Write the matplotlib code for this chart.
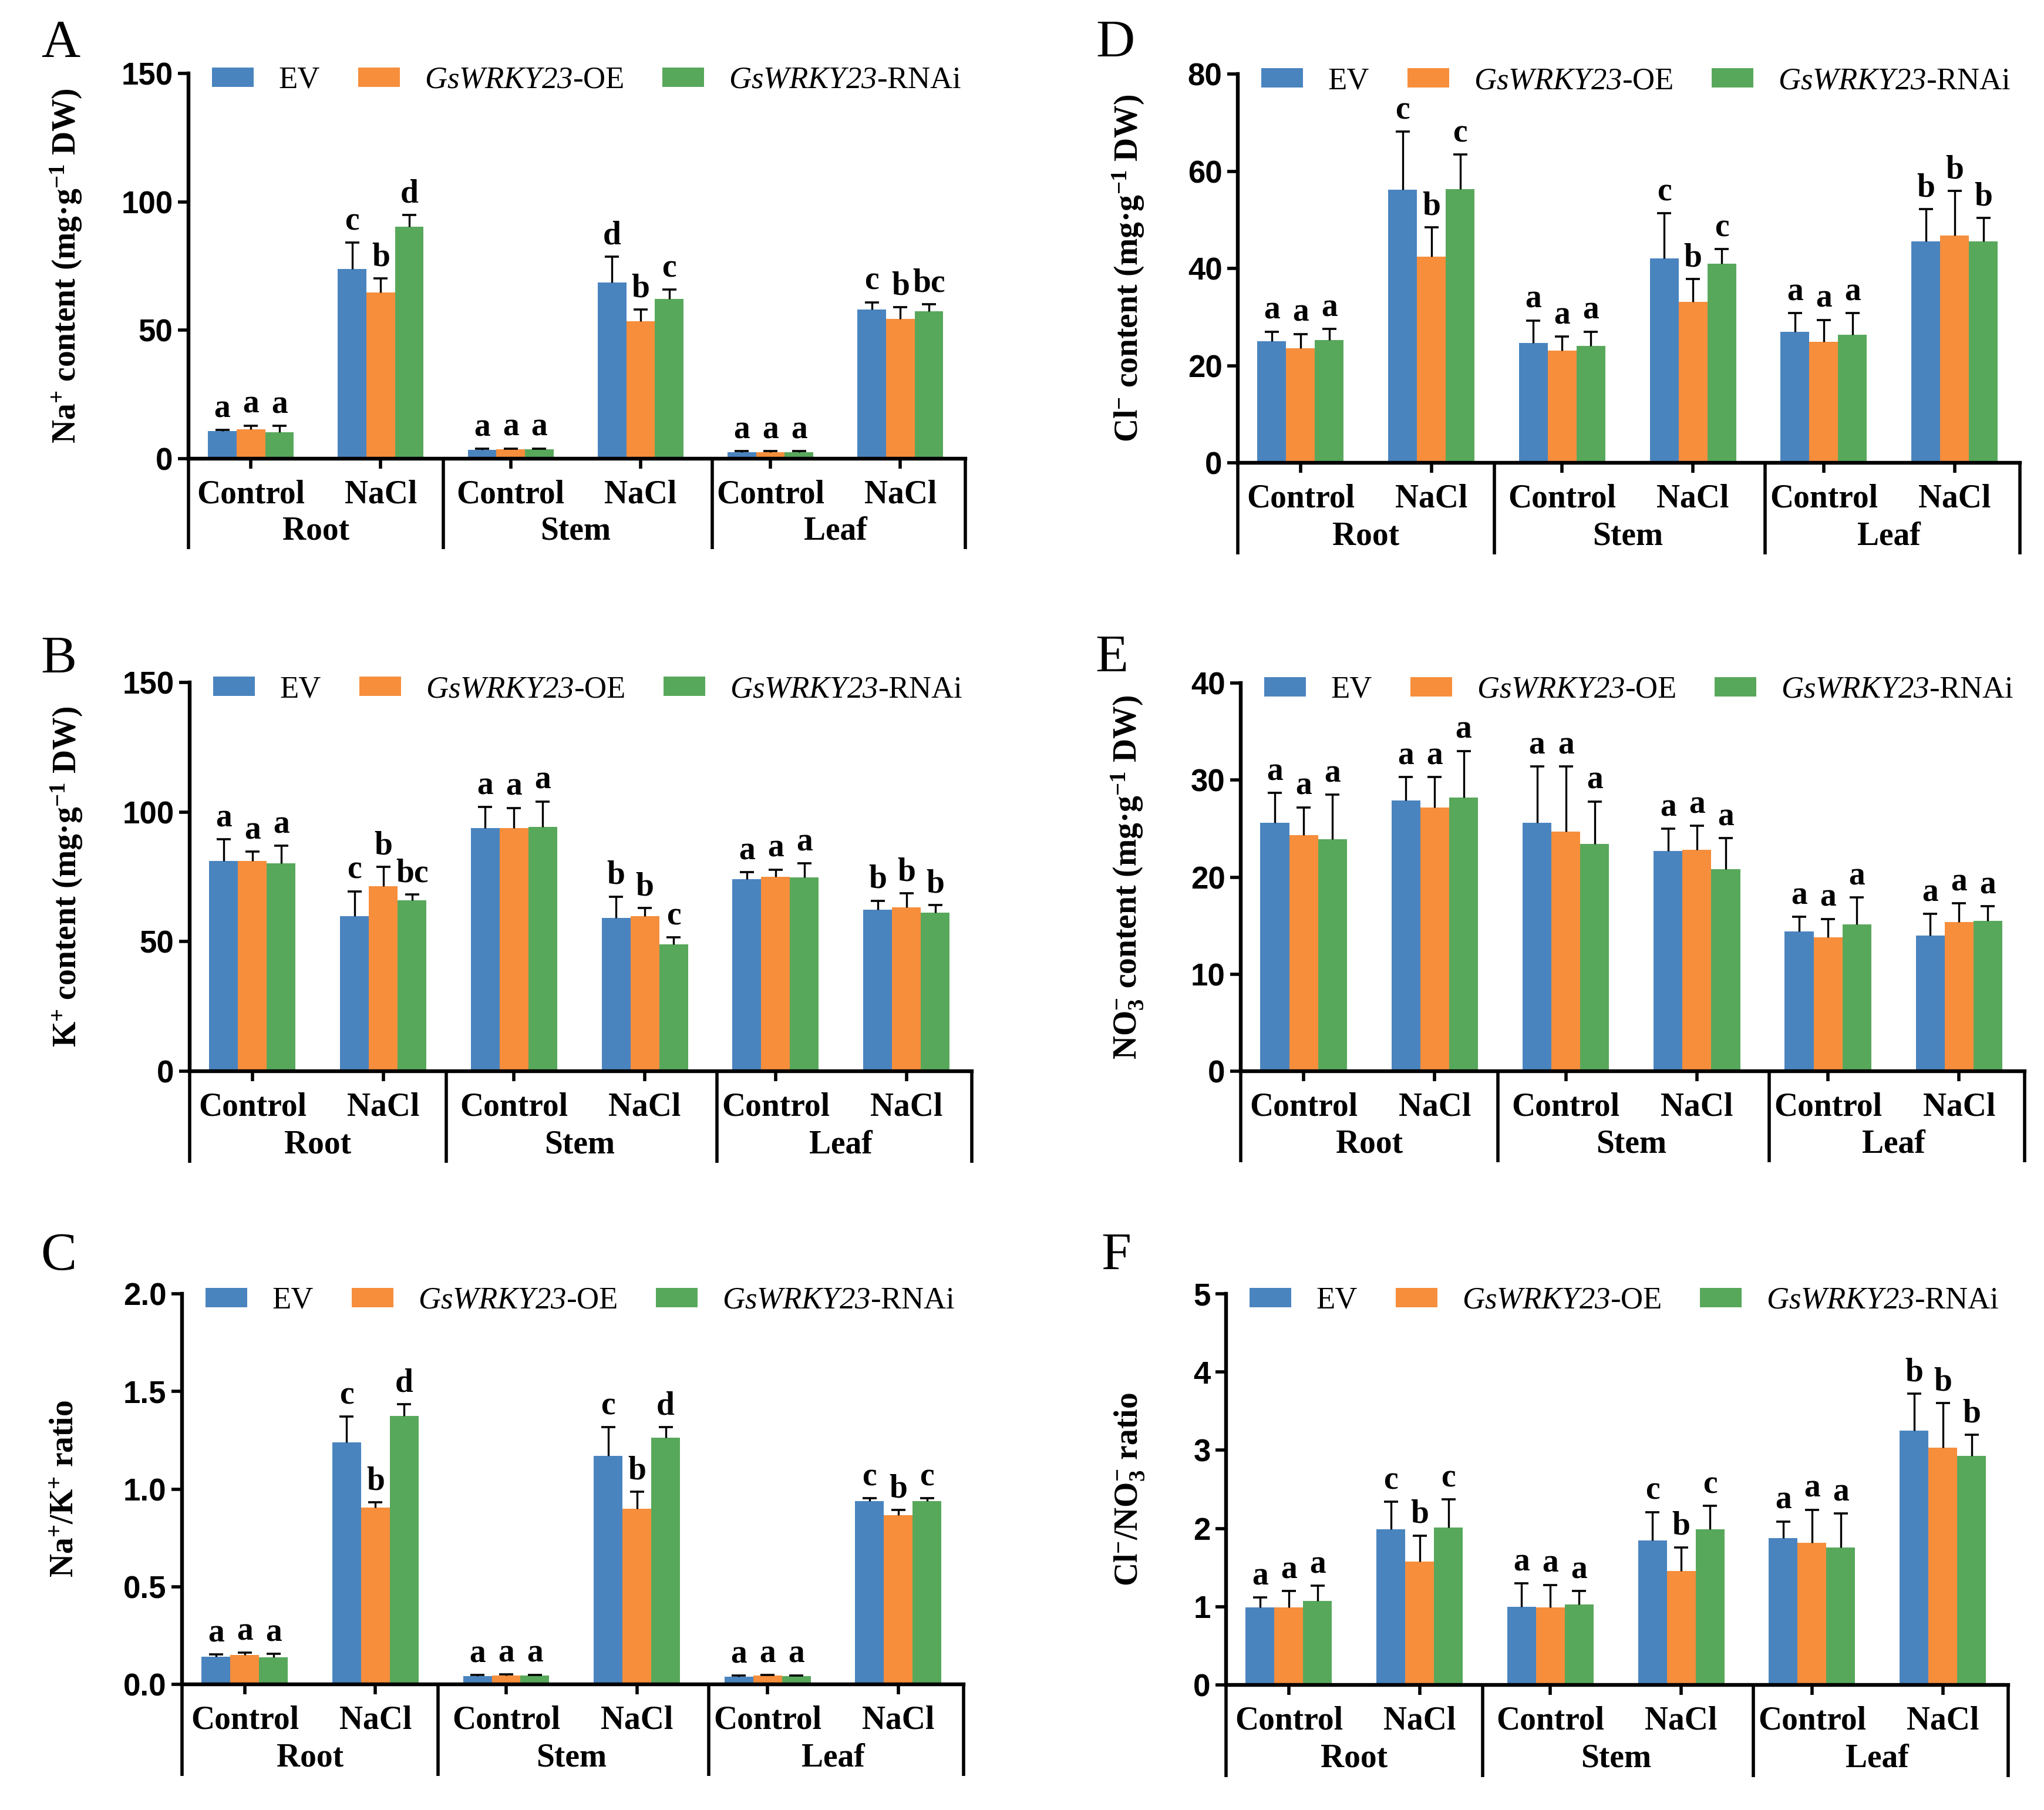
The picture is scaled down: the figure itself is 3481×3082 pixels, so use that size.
"""
Six-panel ion content figure (A-F): EV / GsWRKY23-OE / GsWRKY23-RNAi
in root, stem and leaf under control and NaCl.
"""
import numpy as np
import matplotlib
matplotlib.use("Agg")
import matplotlib.pyplot as plt
import matplotlib.transforms as mtransforms

# mathtext: "rm" is set to the italic face so gene names (letters + digits) come out italic
plt.rcParams["mathtext.fontset"] = "custom"
plt.rcParams["mathtext.rm"] = "Liberation Serif:italic"
plt.rcParams["mathtext.it"] = "Liberation Serif:italic"
plt.rcParams["mathtext.bf"] = "Liberation Serif:bold"

SERIF = "Liberation Serif"
SANS = "Liberation Sans"

# ---- Data -------------------------------------------------------------------
CATEGORIES = ["Control", "NaCl", "Control", "NaCl", "Control", "NaCl"]
TISSUES = ["Root", "Stem", "Leaf"]
GENOTYPES = ["EV", r"$\mathrm{GsWRKY23}$-OE", r"$\mathrm{GsWRKY23}$-RNAi"]
COLORS = ["#4A84BF", "#F68E3C", "#58A85B"]

# A  Na+ content
NA_MEANS = [[10.8, 73.8, 3.5, 68.6, 2.5, 58.0],
            [11.5, 64.6, 3.65, 53.5, 2.6, 54.5],
            [10.2, 90.4, 3.65, 62.1, 2.6, 57.5]]
NA_ERRS = [[0.4, 10.3, 0.4, 10.0, 0.4, 2.9],
           [1.4, 5.5, 0.35, 4.5, 0.4, 4.5],
           [2.5, 4.5, 0.35, 3.8, 0.4, 2.7]]
NA_LETTERS = [["a", "c", "a", "d", "a", "c"],
              ["a", "b", "a", "b", "a", "b"],
              ["a", "d", "a", "c", "a", "bc"]]

# B  K+ content
K_MEANS = [[81.2, 59.9, 93.9, 59.1, 74.1, 62.2],
           [81.2, 71.4, 93.9, 59.9, 75.1, 63.2],
           [80.3, 65.9, 94.2, 49.0, 74.8, 61.2]]
K_ERRS = [[8.2, 9.5, 8.0, 8.3, 2.7, 3.6],
          [3.6, 7.4, 7.7, 3.0, 2.7, 5.5],
          [6.7, 2.2, 9.9, 2.7, 5.3, 2.9]]
K_LETTERS = [["a", "c", "a", "b", "a", "b"],
             ["a", "b", "a", "b", "a", "b"],
             ["a", "bc", "a", "c", "a", "b"]]

# C  Na+/K+ ratio
NAK_MEANS = [[0.142, 1.240, 0.042, 1.170, 0.040, 0.938],
             [0.150, 0.904, 0.045, 0.899, 0.044, 0.866],
             [0.137, 1.374, 0.044, 1.264, 0.042, 0.938]]
NAK_ERRS = [[0.010, 0.131, 0.005, 0.146, 0.004, 0.016],
            [0.013, 0.027, 0.005, 0.087, 0.004, 0.027],
            [0.018, 0.061, 0.005, 0.054, 0.004, 0.014]]
NAK_LETTERS = [["a", "c", "a", "c", "a", "c"],
               ["a", "b", "a", "b", "a", "b"],
               ["a", "d", "a", "d", "a", "c"]]

# D  Cl- content
CL_MEANS = [[25.0, 56.2, 24.6, 42.1, 27.0, 45.5],
            [23.6, 42.4, 23.1, 33.1, 24.9, 46.8],
            [25.2, 56.3, 24.0, 41.0, 26.3, 45.6]]
CL_ERRS = [[2.0, 11.9, 4.7, 9.2, 3.8, 6.7],
           [2.9, 6.0, 2.9, 4.7, 4.5, 9.1],
           [2.3, 7.1, 3.0, 3.0, 4.5, 4.8]]
CL_LETTERS = [["a", "c", "a", "c", "a", "b"],
              ["a", "b", "a", "b", "a", "b"],
              ["a", "c", "a", "c", "a", "b"]]

# E  NO3- content
NO3_MEANS = [[25.6, 27.9, 25.6, 22.7, 14.4, 14.0],
             [24.3, 27.2, 24.7, 22.8, 13.8, 15.4],
             [23.9, 28.2, 23.4, 20.8, 15.1, 15.5]]
NO3_ERRS = [[3.1, 2.4, 5.8, 2.3, 1.5, 2.2],
            [2.9, 3.1, 6.7, 2.5, 1.9, 1.9],
            [4.6, 4.8, 4.4, 3.2, 2.8, 1.5]]
NO3_LETTERS = [["a"] * 6, ["a"] * 6, ["a"] * 6]

# F  Cl-/NO3- ratio
CLN_MEANS = [[0.99, 1.99, 1.00, 1.85, 1.88, 3.25],
             [0.99, 1.58, 0.99, 1.46, 1.82, 3.03],
             [1.07, 2.01, 1.03, 1.99, 1.76, 2.93]]
CLN_ERRS = [[0.13, 0.35, 0.30, 0.36, 0.21, 0.47],
            [0.21, 0.33, 0.29, 0.30, 0.42, 0.57],
            [0.20, 0.36, 0.17, 0.30, 0.43, 0.27]]
CLN_LETTERS = [["a", "c", "a", "c", "a", "b"],
               ["a", "b", "a", "b", "a", "b"],
               ["a", "c", "a", "c", "a", "b"]]

# ---- Layout (pixel boxes of the 3481x3082 canvas) ---------------------------
W, H, DPI = 3481, 3082, 200
X_LEFT, X_RIGHT = -0.48, 5.50
SEPARATORS = [X_LEFT, 1.48, 3.55, X_RIGHT]
BAR_W = 0.22

fig = plt.figure(figsize=(W / DPI, H / DPI), dpi=DPI)


def make_axes(left, right, top, zero):
    return fig.add_axes([left / W, 1 - zero / H, (right - left) / W, (zero - top) / H])


def draw_panel(ax, means, errs, letters, ymax, yticks, ylabel, label_x):
    x = np.arange(len(CATEGORIES))
    for i, (m, e, lt, col, lab) in enumerate(zip(means, errs, letters, COLORS, GENOTYPES)):
        xi = x + (i - 1) * BAR_W
        m = np.array(m)
        e = np.array(e)
        ax.bar(xi, m, width=BAR_W, color=col, edgecolor="none", label=lab, zorder=2)
        ax.errorbar(xi, m, yerr=[np.zeros_like(e), e], fmt="none", ecolor="k",
                    elinewidth=1.2, capsize=0, zorder=3)
        ax.plot(xi, m + e, ls="none", marker="_", ms=8.5, mew=1.3, color="k", zorder=3)
        for xx, top, t in zip(xi, m + e, lt):
            ax.annotate(t, (xx, top), xytext=(0, 3.5), textcoords="offset points",
                        ha="center", va="bottom", fontsize=20, fontweight="bold",
                        family=SERIF)

    ax.set_xlim(X_LEFT, X_RIGHT)
    ax.set_ylim(0, ymax)
    ax.set_yticks(yticks)
    ax.set_xticks(x)
    ax.set_xticklabels([])
    for sp in ["top", "right"]:
        ax.spines[sp].set_visible(False)
    for sp in ["left", "bottom"]:
        ax.spines[sp].set_linewidth(2.3)
    ax.tick_params(axis="y", direction="out", length=6.5, width=2.0, pad=3.0)
    ax.tick_params(axis="x", direction="out", length=6.0, width=2.0)
    for lbl in ax.get_yticklabels():
        lbl.set_fontfamily(SANS)
        lbl.set_fontweight("bold")
        lbl.set_fontsize(19)

    # nested category axis
    trans = mtransforms.blended_transform_factory(ax.transData, ax.transAxes)
    for s in SEPARATORS:
        ax.plot([s, s], [0, -0.235], color="k", lw=2.0, transform=trans,
                clip_on=False, solid_capstyle="butt")
    for xx, c in zip(x, CATEGORIES):
        ax.text(xx, -0.093, c, transform=trans, ha="center", va="center",
                fontsize=20, fontweight="bold", family=SERIF)
    for j, t in enumerate(TISSUES):
        ax.text(2 * j + 0.5, -0.189, t, transform=trans, ha="center", va="center",
                fontsize=20, fontweight="bold", family=SERIF)

    ax.text(label_x, 0.5, ylabel, transform=ax.transAxes, rotation=90,
            ha="center", va="center", fontsize=20, fontweight="bold", family=SERIF)

    w_px = ax.get_position().width * W
    h_px = ax.get_position().height * H
    ax.legend(ncol=3, loc="center left", bbox_to_anchor=(40 / w_px, 1 - 12 / h_px),
              frameon=False, borderpad=0, borderaxespad=0, handlelength=1.34,
              handleheight=0.57, handletextpad=0.8, columnspacing=1.25,
              prop={"family": SERIF, "size": 19})


ax_a = make_axes(321, 1644, 125, 781)
draw_panel(ax_a, NA_MEANS, NA_ERRS, NA_LETTERS, 150, [0, 50, 100, 150],
           r"Na$^{\mathbf{+}}$ content (mg·g$^{\mathbf{-1}}$ DW)", -0.157)

ax_d = make_axes(2108, 3440, 126, 788)
draw_panel(ax_d, CL_MEANS, CL_ERRS, CL_LETTERS, 80, [0, 20, 40, 60, 80],
           r"Cl$^{\mathbf{-}}$ content (mg·g$^{\mathbf{-1}}$ DW)", -0.140)

ax_b = make_axes(323, 1655, 1162, 1824)
draw_panel(ax_b, K_MEANS, K_ERRS, K_LETTERS, 150, [0, 50, 100, 150],
           r"K$^{\mathbf{+}}$ content (mg·g$^{\mathbf{-1}}$ DW)", -0.157)

ax_e = make_axes(2113, 3448, 1163, 1824)
draw_panel(ax_e, NO3_MEANS, NO3_ERRS, NO3_LETTERS, 40, [0, 10, 20, 30, 40],
           r"NO$_{\mathbf{3}}^{\mathbf{-}}$ content (mg·g$^{\mathbf{-1}}$ DW)", -0.144)

ax_c = make_axes(310, 1641, 2203, 2868)
draw_panel(ax_c, NAK_MEANS, NAK_ERRS, NAK_LETTERS, 2.0, [0.0, 0.5, 1.0, 1.5, 2.0],
           r"Na$^{\mathbf{+}}$/K$^{\mathbf{+}}$ ratio", -0.150)
ax_c.set_yticklabels(["0.0", "0.5", "1.0", "1.5", "2.0"], fontfamily=SANS,
                     fontweight="bold", fontsize=19)

ax_f = make_axes(2088, 3420, 2203, 2869)
draw_panel(ax_f, CLN_MEANS, CLN_ERRS, CLN_LETTERS, 5, [0, 1, 2, 3, 4, 5],
           r"Cl$^{\mathbf{-}}$/NO$_{\mathbf{3}}^{\mathbf{-}}$ ratio", -0.123)

# panel letters
for letter, (px, py) in zip("ADBECF", [(103, 75), (1899, 75), (100, 1124),
                                        (1893, 1122), (100, 2140), (1901, 2140)]):
    fig.text(px / W, 1 - py / H, letter, ha="center", va="center",
             fontsize=33, family=SERIF)

fig.savefig("out.png", dpi=DPI)
